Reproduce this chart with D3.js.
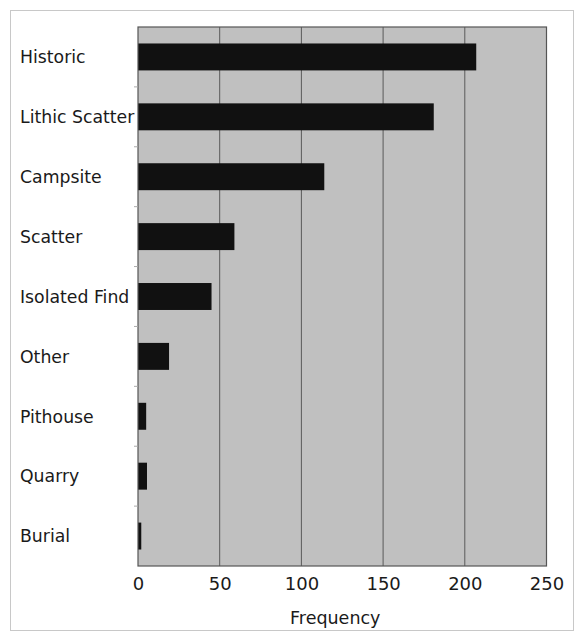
<!DOCTYPE html>
<html>
<head>
<meta charset="utf-8">
<script src="https://cdn.jsdelivr.net/npm/d3@7"></script>
<style>
  html, body { margin: 0; padding: 0; background: #fff; }
  svg { display: block; }
  text { font-family: "DejaVu Sans", sans-serif; fill: #1a1a1a; }
</style>
</head>
<body>
<script>
const categories = ["Historic", "Lithic Scatter", "Campsite", "Scatter", "Isolated Find", "Other", "Pithouse", "Quarry", "Burial"];
const frequencies = [207, 181, 114, 59, 45, 19, 5, 5.5, 2];
const tickValues = [0, 50, 100, 150, 200, 250];
const axisTitle = "Frequency";

const W = 575, H = 634;
const plot = { left: 138, right: 546.5, top: 27, bottom: 566 };

const svg = d3.select("body").append("svg").attr("width", W).attr("height", H);

// outer frame
svg.append("rect")
  .attr("x", 10.5).attr("y", 10.5)
  .attr("width", 563).attr("height", 620)
  .attr("fill", "#fff").attr("stroke", "#c8c8c8").attr("stroke-width", 1);

const x = d3.scaleLinear().domain([0, 250]).range([plot.left, plot.right]);
const y = d3.scaleBand().domain(categories).range([plot.top, plot.bottom])
  .paddingInner(0.55).paddingOuter(0.275);

// plot background
svg.append("rect")
  .attr("x", plot.left).attr("y", plot.top)
  .attr("width", plot.right - plot.left).attr("height", plot.bottom - plot.top)
  .attr("fill", "#c0c0c0");

// gridlines
svg.append("g").selectAll("line").data(tickValues.slice(1, -1)).join("line")
  .attr("x1", d => x(d)).attr("x2", d => x(d))
  .attr("y1", plot.top).attr("y2", plot.bottom)
  .attr("stroke", "#5a5a5a").attr("stroke-width", 1);

// bars
svg.append("g").selectAll("rect").data(categories).join("rect")
  .attr("x", x(0))
  .attr("y", d => y(d))
  .attr("width", (d, i) => x(frequencies[i]) - x(0))
  .attr("height", y.bandwidth())
  .attr("fill", "#111");

// plot border
svg.append("rect")
  .attr("x", plot.left).attr("y", plot.top)
  .attr("width", plot.right - plot.left).attr("height", plot.bottom - plot.top)
  .attr("fill", "none").attr("stroke", "#555").attr("stroke-width", 1.2);

// small category separator ticks on left
const step = y.step();
svg.append("g").selectAll("line").data(categories.slice(1)).join("line")
  .attr("x1", plot.left - 4).attr("x2", plot.left)
  .attr("y1", d => y(d) - y.paddingInner() * step / 2)
  .attr("y2", d => y(d) - y.paddingInner() * step / 2)
  .attr("stroke", "#aaa").attr("stroke-width", 1);

// category labels
svg.append("g").selectAll("text").data(categories).join("text")
  .attr("x", 20)
  .attr("y", d => y(d) + y.bandwidth() / 2)
  .attr("dy", "0.36em")
  .attr("font-size", 17.3)
  .text(d => d);

// x axis tick labels
const xAxis = d3.axisBottom(x).tickValues(tickValues).tickSize(0).tickPadding(11);
const gx = svg.append("g").attr("transform", `translate(0,${plot.bottom})`).call(xAxis);
gx.select(".domain").remove();
gx.selectAll("text")
  .attr("font-size", 18)
  .attr("font-family", "DejaVu Sans, sans-serif")
  .attr("fill", "#1a1a1a");

// axis title
svg.append("text")
  .attr("x", (plot.left + plot.right) / 2 - 7)
  .attr("y", 624)
  .attr("text-anchor", "middle")
  .attr("font-size", 17.5)
  .text(axisTitle);
</script>
</body>
</html>
